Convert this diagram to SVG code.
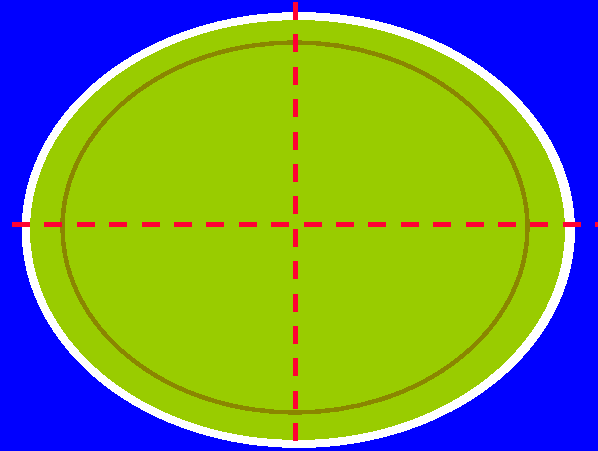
<svg xmlns="http://www.w3.org/2000/svg" width="598" height="451" viewBox="0 0 598 451">
<style>
.axis{fill:none;stroke:#ff0033;stroke-width:5;stroke-dasharray:18 14.4}
</style>
<rect x="0" y="0" width="598" height="451" fill="#0000ff"/>
<g id="plate" shape-rendering="crispEdges">
<ellipse cx="298.3" cy="230" rx="276.7" ry="218" fill="#ffffff"/>
<ellipse cx="297.5" cy="230" rx="267.5" ry="210" fill="#99cc00"/>
<ellipse cx="295" cy="227.5" rx="232.5" ry="185" fill="none" stroke="#8a8600" stroke-width="4.5"/>
</g>
<g id="axes" shape-rendering="crispEdges">
<line class="axis" x1="12" y1="224.8" x2="598" y2="224.8"/>
<line class="axis" x1="295.8" y1="2" x2="295.8" y2="442"/>
</g>
</svg>
